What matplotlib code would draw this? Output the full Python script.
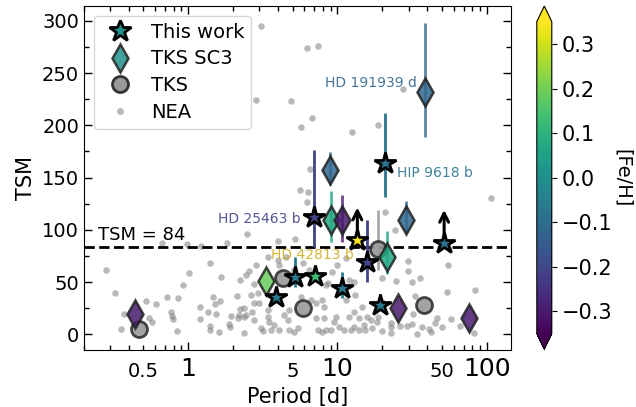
import matplotlib
matplotlib.use("Agg")
import matplotlib.pyplot as plt
from matplotlib.lines import Line2D
from matplotlib.ticker import FixedLocator, FixedFormatter, NullFormatter, MultipleLocator

# --- data -------------------------------------------------------------------
# "This work" (stars)
star_per = [20.8, 6.98, 13.6, 15.8, 51.9, 3.88, 5.22, 7.09, 10.7, 19.4]
star_tsm = [163.6, 112.0, 90.0, 69.5, 87.7, 35.4, 55.1, 55.8, 44.0, 28.0]
star_err_lo = [32.0, 28.0, 0.0, 19.0, 0.0, 0.0, 10.0, 0.0, 9.6, 0.0]
star_err_hi = [48.0, 64.0, 0.0, 39.5, 0.0, 0.0, 19.0, 0.0, 16.0, 0.0]
star_feh = [-0.08, -0.21, 0.40, -0.21, -0.08, -0.07, -0.07, 0.13, -0.07, -0.07]
star_lowlim = [False, False, True, False, True, False, False, False, False, False]

# TKS SC3 (diamonds)
sc3_per = [38.4, 8.89, 9.02, 10.8, 28.8, 21.5, 3.33, 25.5, 76.6, 0.44]
sc3_tsm = [232.0, 157.0, 109.4, 109.4, 109.4, 73.7, 51.3, 24.9, 15.3, 19.1]
sc3_err_lo = [43.5, 14.0, 20.8, 20.8, 12.6, 16.0, 0.0, 0.0, 0.0, 0.0]
sc3_err_hi = [66.0, 17.0, 27.6, 23.6, 18.0, 25.3, 0.0, 0.0, 0.0, 0.0]
sc3_feh = [-0.12, -0.12, 0.07, -0.30, -0.12, 0.07, 0.19, -0.30, -0.30, -0.30]

# TKS (gray circles)
tks_per = [0.471, 4.30, 5.90, 37.8, 18.6]
tks_tsm = [4.8, 53.6, 24.9, 28.0, 81.6]
tks_err_lo = [0.0, 0.0, 0.0, 0.0, 20.0]
tks_err_hi = [0.0, 0.0, 0.0, 0.0, 37.4]

# labelled planets
label_name = ["HD 191939 d", "HIP 9618 b", "HD 25463 b", "HD 42813 b"]
label_per = [34.3, 25.1, 5.69, 12.9]
label_tsm = [240.0, 154.0, 110.0, 76.0]
label_feh = [-0.12, -0.08, -0.21, 0.40]
label_ha = ["right", "left", "right", "right"]

# NEA background sample
nea_per = [
    3.08, 6.24, 7.42, 2.85, 4.88, 6.77, 5.69, 12.45, 18.8, 27.5,
    6.54, 5.63, 6.37, 6.21, 106.8, 2.49, 3.98, 5.19, 1.83, 20.8,
    24.2, 29.7, 29.7, 55.5, 24.6, 31.6, 35.5, 54.6, 83.5, 32.9,
    31.9, 46.6, 58.1, 22.7, 22.7, 26.4, 29.3, 31.6, 36.9, 41.4,
    42.7, 50.6, 45.2, 66.4, 19.95, 22.7, 34.1, 18.8, 0.281, 0.324,
    0.354, 0.369, 0.519, 0.605, 0.546, 0.569, 0.717, 0.853, 0.762, 0.774,
    0.789, 0.836, 0.921, 1.01, 0.671, 0.979, 1.21, 1.39, 1.67, 2.24,
    1.47, 1.51, 1.63, 2.11, 1.195, 1.195, 1.35, 1.54, 1.40, 1.41,
    1.62, 1.88, 1.91, 1.94, 2.19, 2.24, 2.17, 2.37, 2.35, 2.35,
    2.54, 2.45, 2.78, 2.64, 2.93, 2.78, 3.00, 2.45, 2.68, 2.74,
    3.41, 3.41, 3.50, 3.08, 3.16, 3.59, 3.78, 4.08, 4.64, 4.76,
    5.14, 5.41, 4.41, 4.76, 7.17, 6.64, 5.69, 7.94, 8.14, 7.17,
    8.14, 7.36, 7.94, 8.36, 9.02, 9.49, 9.74, 10.25, 11.07, 12.27,
    12.9, 13.9, 15.0, 15.4, 17.1, 11.9, 12.9, 13.9, 14.7, 15.8,
    16.7, 18.5, 11.4, 8.36, 9.26, 10.0, 11.9, 12.9, 13.2, 5.84,
    6.47, 8.58, 11.4, 5.14, 4.08, 3.98, 3.41, 4.52, 2.85, 19.95,
    19.95, 82.3,
]
nea_tsm = [
    295.3, 274.3, 276.2, 224.5, 223.0, 206.7, 198.4, 193.9, 200.3, 235.0,
    158.2, 138.4, 136.5, 126.3, 130.1, 95.7, 89.6, 91.2, 87.1, 116.7,
    99.8, 70.1, 60.9, 66.3, 51.0, 50.0, 53.9, 40.5, 42.4, 36.7,
    19.1, 15.9, 14.4, 10.5, 6.7, 8.2, 7.9, 9.6, 7.0, 5.1,
    2.5, 7.3, 11.1, 8.2, 3.4, 1.0, 0.3, 16.8, 61.5, 39.8,
    5.1, 19.1, 31.9, 29.3, 15.9, 12.1, 35.4, 34.4, 21.6, 17.8,
    14.4, 2.9, 47.2, 58.9, 87.7, 86.4, 84.5, 67.9, 54.8, 51.7,
    35.7, 28.7, 31.9, 36.9, 26.1, 14.6, 21.3, 19.1, 8.2, 3.8,
    1.9, 10.1, 6.7, 17.8, 18.2, 24.2, 15.9, 1.0, 24.9, 16.8,
    60.9, 56.7, 47.8, 37.6, 39.2, 29.7, 29.7, 18.5, 21.6, 13.7,
    23.3, 16.8, 12.1, 5.7, 3.4, 4.1, 8.9, 4.1, 13.7, 4.1,
    2.5, 5.7, 18.5, 23.3, 29.7, 32.8, 36.0, 32.8, 25.8, 15.3,
    15.3, 4.1, 2.5, 4.1, 4.1, 12.1, 16.8, 7.3, 4.1, 4.1,
    7.3, 4.1, 8.9, 4.1, 5.7, 16.8, 21.6, 15.3, 26.4, 16.8,
    13.7, 12.1, 32.8, 47.2, 59.9, 66.3, 52.0, 50.3, 37.6, 67.9,
    61.5, 48.8, 72.7, 61.5, 66.3, 71.1, 74.3, 74.3, 66.3, 53.6,
    31.2, 1.5,
]

feh_min, feh_max = -0.35, 0.35
tsm_cut = 84

cmap = plt.get_cmap("viridis")
norm = plt.Normalize(feh_min, feh_max)

fig = plt.figure(figsize=(6.36, 4.07), dpi=100)
ax = fig.add_axes([0.132, 0.140, 0.671, 0.845])
cax = fig.add_axes([0.844, 0.142, 0.0236, 0.843])

ax.scatter(nea_per, nea_tsm, s=22, color="gray", alpha=0.55, linewidths=0, zorder=1)

# TKS
for p, t, lo, hi in zip(tks_per, tks_tsm, tks_err_lo, tks_err_hi):
    if lo > 0 or hi > 0:
        ax.errorbar(p, t, yerr=[[lo], [hi]], fmt="none", ecolor="darkgray", elinewidth=2, zorder=2)
    ax.plot(p, t, "o", ms=11.5, mfc="#999999", mec="#333333", mew=2, alpha=0.9, zorder=3)

# TKS SC3
for p, t, lo, hi, f in zip(sc3_per, sc3_tsm, sc3_err_lo, sc3_err_hi, sc3_feh):
    c = cmap(norm(f))
    if lo > 0 or hi > 0:
        ax.errorbar(p, t, yerr=[[lo], [hi]], fmt="none", ecolor=c, elinewidth=2, alpha=0.8, zorder=2)
    ax.plot(p, t, "d", ms=14, mfc=c, mec="#222222", mew=1.8, alpha=0.85, zorder=4)

# this work
for p, t, lo, hi, f, lim in zip(star_per, star_tsm, star_err_lo, star_err_hi, star_feh, star_lowlim):
    c = cmap(norm(f))
    if lo > 0 or hi > 0:
        ax.errorbar(p, t, yerr=[[lo], [hi]], fmt="none", ecolor=c, elinewidth=2, zorder=2)
    if lim:
        ax.annotate("", xy=(p, t + 34), xytext=(p, t),
                    arrowprops=dict(arrowstyle="->", lw=2.2, color="k", mutation_scale=16), zorder=4)
    ax.plot(p, t, "*", ms=16, mfc=c, mec="k", mew=2, zorder=5)

for name, p, t, f, ha in zip(label_name, label_per, label_tsm, label_feh, label_ha):
    c = "#cfad20" if f > feh_max else cmap(norm(f))
    ax.text(p, t, name, color=c, fontsize=10, ha=ha, va="center", alpha=0.9)

ax.axhline(tsm_cut, color="k", ls="--", lw=2, zorder=1.5)
ax.text(0.25, tsm_cut + 2, f"TSM = {tsm_cut}", fontsize=13, va="bottom")

ax.set_xscale("log")
ax.set_xlim(0.2, 145)
ax.set_ylim(-15, 314)
ax.xaxis.set_major_locator(FixedLocator([1, 10, 100]))
ax.xaxis.set_major_formatter(FixedFormatter(["1", "10", "100"]))
minor = [k * 10.0 ** e for e in (-1, 0, 1, 2) for k in range(2, 10)]
ax.xaxis.set_minor_locator(FixedLocator(minor))
ax.xaxis.set_minor_formatter(NullFormatter())
ax.yaxis.set_major_locator(MultipleLocator(50))
ax.yaxis.set_minor_locator(MultipleLocator(25))
ax.tick_params(which="both", direction="in", top=True, right=True)
ax.tick_params(which="major", length=6, width=1)
ax.tick_params(which="minor", length=3.5, width=1)
ax.tick_params(axis="y", labelsize=14)
ax.tick_params(axis="x", which="major", labelsize=18, pad=5)
for v, s in [(0.5, "0.5"), (5, "5"), (50, "50")]:
    ax.text(v, -0.035, s, transform=ax.get_xaxis_transform(), ha="center", va="top", fontsize=14)
ax.set_xlabel("Period [d]", fontsize=15, labelpad=4)
ax.set_ylabel("TSM", fontsize=15)

handles = [
    Line2D([], [], ls="none", marker="*", ms=16.5, mfc="#21918c", mec="k", mew=2),
    Line2D([], [], ls="none", marker="d", ms=14, mfc="#21918c", mec="#222222", mew=1.8, alpha=0.85),
    Line2D([], [], ls="none", marker="o", ms=11.5, mfc="#999999", mec="#333333", mew=2),
    Line2D([], [], ls="none", marker="o", ms=5, mfc="gray", mec="none", alpha=0.55),
]
ax.legend(handles, ["This work", "TKS SC3", "TKS", "NEA"], loc="upper left", fontsize=14,
          borderaxespad=0.5, handletextpad=0.6, labelspacing=0.4, borderpad=0.35)

sm = plt.cm.ScalarMappable(norm=norm, cmap=cmap)
cb = fig.colorbar(sm, cax=cax, extend="both")
cb.set_ticks([-0.3, -0.2, -0.1, 0.0, 0.1, 0.2, 0.3])
cb.ax.tick_params(labelsize=15)
cb.set_label("[Fe/H]", fontsize=14, rotation=270, labelpad=14)

fig.savefig("out.png", dpi=100)
